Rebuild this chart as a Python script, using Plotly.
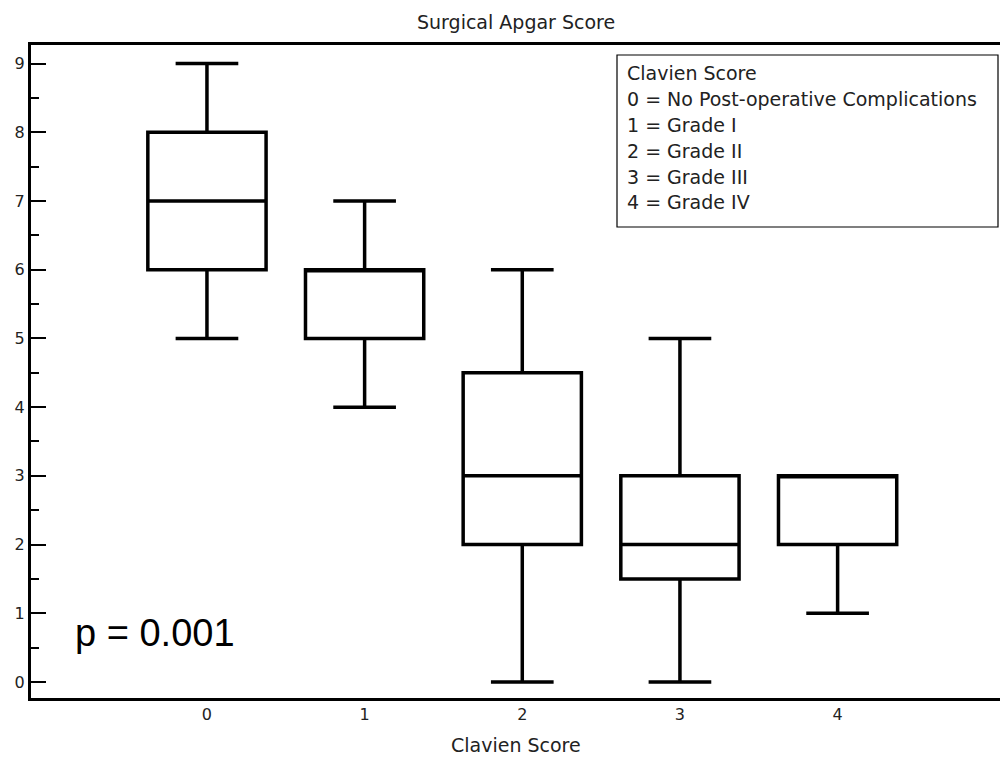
import plotly.graph_objects as go

categories = [0, 1, 2, 3, 4]
q1_vals = [6, 5, 2, 1.5, 2]
median_vals = [7, 6, 3, 2, 3]
q3_vals = [8, 6, 4.5, 3, 3]
lower_vals = [5, 4, 0, 0, 1]
upper_vals = [9, 7, 6, 5, 3]
y_ticks = list(range(0, 10))
legend_lines = ["Clavien Score", "0 = No Post-operative Complications", "1 = Grade I",
                "2 = Grade II", "3 = Grade III", "4 = Grade IV"]

W, H = 1000, 762
ML, MR, MT, MB = 31, 0, 45, 64
PW, PH = W - ML - MR, H - MT - MB


def px(x):
    return (x - ML) / PW


def py(y):
    return (H - MB - y) / PH


FONT = "DejaVu Sans"

fig = go.Figure()
fig.add_trace(go.Box(
    x=categories, q1=q1_vals, median=median_vals, q3=q3_vals,
    lowerfence=lower_vals, upperfence=upper_vals,
    width=0.75, whiskerwidth=0.53,
    fillcolor="white", line=dict(color="black", width=3.5),
    boxpoints=False, showlegend=False, hoverinfo="skip",
))

annotations = [
    dict(text="Surgical Apgar Score", x=0.5, y=py(22), xref="paper", yref="paper",
         xanchor="center", yanchor="middle", showarrow=False,
         font=dict(family=FONT, size=19, color="#222")),
    dict(text="Clavien Score", x=0.5, y=py(745), xref="paper", yref="paper",
         xanchor="center", yanchor="middle", showarrow=False,
         font=dict(family=FONT, size=19, color="#222")),
    dict(text="p = 0.001", x=px(73), y=py(633), xref="paper", yref="paper",
         xanchor="left", yanchor="middle", showarrow=False,
         font=dict(family="Liberation Sans", size=38, color="black")),
]
line_y = [73, 99, 125, 151, 177, 202]
for t, yy in zip(legend_lines, line_y):
    annotations.append(dict(text=t, x=px(625), y=py(yy), xref="paper", yref="paper",
                            xanchor="left", yanchor="middle", showarrow=False,
                            font=dict(family=FONT, size=19, color="#222")))

fig.update_layout(
    width=W, height=H,
    margin=dict(l=ML, r=MR, t=MT, b=MB),
    paper_bgcolor="white", plot_bgcolor="white",
    annotations=annotations,
    shapes=[dict(type="rect", xref="paper", yref="paper",
                 x0=px(617), x1=px(998), y0=py(227), y1=py(55),
                 line=dict(color="black", width=1.2), fillcolor="rgba(0,0,0,0)")],
    xaxis=dict(range=[-1.116, 5.03], tickvals=categories, ticktext=[str(c) for c in categories],
               showline=True, mirror=True, linecolor="black", linewidth=3,
               ticks="", showgrid=False, zeroline=False,
               tickfont=dict(family=FONT, size=16, color="#222")),
    yaxis=dict(range=[-0.233, 9.27], tickvals=y_ticks, ticks="inside", ticklen=15, tickwidth=2,
               tickcolor="black", showline=True, linecolor="black", linewidth=3,
               showgrid=False, zeroline=False,
               minor=dict(ticks="inside", ticklen=8, tickwidth=2, tickcolor="black", dtick=0.5,
                          showgrid=False),
               tickfont=dict(family=FONT, size=16, color="#222")),
)

fig.write_html("out.html")
